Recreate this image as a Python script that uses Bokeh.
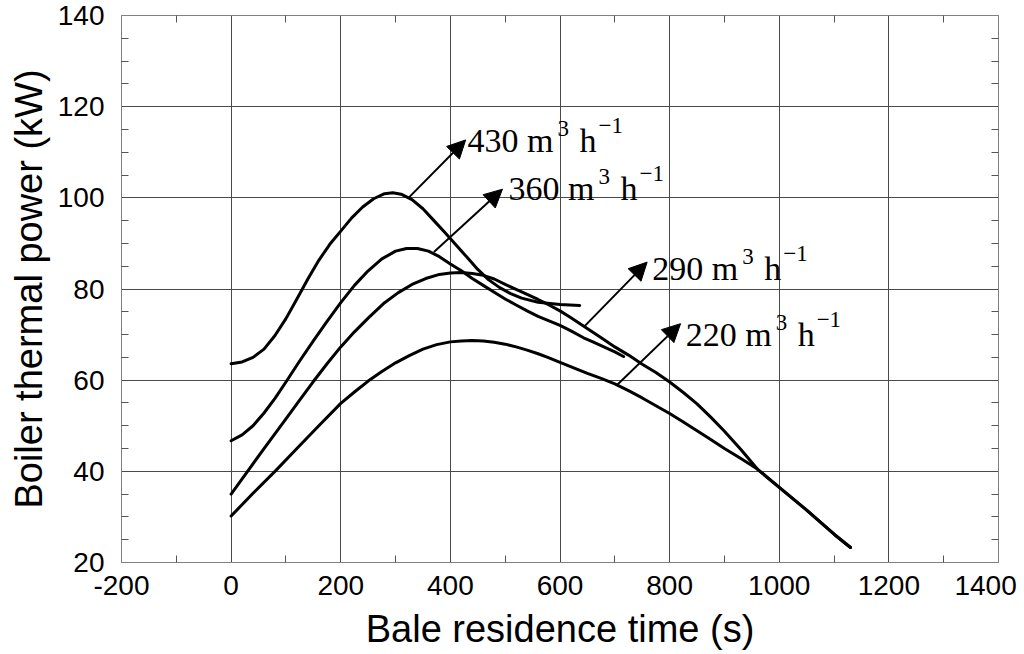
from bokeh.plotting import figure
from bokeh.models import LinearAxis, FixedTicker, Arrow, NormalHead, Range1d
from bokeh.core.properties import value
from bokeh.embed import file_html
from bokeh.resources import INLINE

# ---- data ----
x430 = [0, 20, 40, 60, 80, 100, 120, 140, 160, 180, 200, 220, 240, 260, 280, 295, 310, 330, 350, 370,
        390, 410, 430, 450, 470, 490, 510, 530, 560, 600, 636]
y430 = [63.6, 64.0, 65.0, 66.8, 69.8, 73.5, 77.8, 82.2, 86.3, 89.8, 92.7, 95.6, 98.0, 99.8, 100.9, 101.1,
        100.8, 99.6, 97.6, 95.0, 92.4, 89.7, 87.0, 84.3, 82.0, 80.3, 79.0, 78.0, 77.1, 76.6, 76.4]

x360 = [0, 20, 40, 60, 80, 100, 125, 150, 175, 200, 225, 250, 275, 300, 320, 340, 360, 380, 400, 420,
        440, 460, 480, 500, 520, 540, 560, 580, 600, 620, 643, 660, 680, 700, 716]
y360 = [46.7, 48.0, 50.0, 52.8, 56.0, 59.6, 64.2, 68.6, 72.9, 77.0, 80.8, 84.0, 86.6, 88.3, 88.9, 88.9,
        88.3, 87.1, 85.5, 84.0, 82.3, 80.8, 79.3, 77.8, 76.5, 75.2, 74.0, 73.0, 72.0, 70.8, 69.3, 68.4,
        67.3, 66.2, 65.2]

x290 = [0, 30, 60, 100, 125, 150, 175, 200, 225, 250, 280, 305, 330, 355, 380, 400, 420, 440, 460, 480,
        500, 520, 540, 560, 580, 600, 620, 640, 660, 680, 700, 725, 750, 775, 800, 825, 850, 875, 900,
        930, 960, 1000, 1050, 1100, 1130]
y290 = [35.0, 40.0, 45.0, 51.5, 55.6, 59.7, 63.6, 67.3, 70.6, 73.6, 77.0, 79.2, 81.0, 82.3, 83.2, 83.5,
        83.6, 83.4, 83.0, 82.2, 81.0, 79.9, 78.8, 77.7, 76.5, 75.2, 73.7, 72.1, 70.5, 68.9, 67.3, 65.5,
        63.5, 61.7, 59.6, 57.3, 54.8, 51.9, 48.8, 44.8, 40.5, 36.5, 31.5, 26.2, 23.3]

x220 = [0, 40, 80, 120, 160, 200, 225, 250, 275, 300, 325, 350, 375, 400, 420, 440, 460, 480, 500, 520,
        540, 560, 580, 600, 625, 650, 675, 700, 725, 750, 775, 800, 825, 850, 875, 900, 930, 960, 1000,
        1050, 1100, 1130]
y220 = [30.2, 35.2, 40.0, 45.0, 50.0, 54.9, 57.4, 59.8, 61.9, 63.8, 65.4, 66.8, 67.8, 68.4, 68.6, 68.7,
        68.6, 68.3, 67.9, 67.3, 66.6, 65.8, 64.9, 63.9, 62.7, 61.5, 60.4, 59.2, 57.7, 56.1, 54.4, 52.7,
        50.8, 48.9, 47.0, 45.0, 42.8, 40.5, 36.5, 31.5, 26.2, 23.3]

flow_rates = ["430", "360", "290", "220"]

x_ticks = [-200, 0, 200, 400, 600, 800, 1000, 1200, 1400]
x_minor = [-100, 100, 300, 500, 700, 900, 1100, 1300]
y_ticks = [20, 40, 60, 80, 100, 120, 140]
y_minor = [25, 30, 35, 45, 50, 55, 65, 70, 75, 85, 90, 95, 105, 110, 115, 125, 130, 135]

# ---- annotation layout (label anchors and arrows, in data units) ----
label_anchor_x = [431.3, 506.2, 768.4, 829.2]
label_anchor_y = [112.6, 102.0, 84.5, 70.1]
arrow_start = [(324.5, 100.1), (370.0, 88.1), (643.6, 71.7), (704.5, 59.0)]
arrow_end = [(427.9, 112.7), (495.0, 101.9), (759.0, 85.9), (820.0, 72.4)]

SANS = "Liberation Sans"
SERIF = "Liberation Serif"
GRID = "#4a4a4a"
AXC = "#808080"
NB = "\u00a0"

p = figure(width=1024, height=652,
           x_range=Range1d(-200, 1400), y_range=Range1d(20, 140),
           output_backend="svg", toolbar_location=None,
           min_border_left=121, min_border_right=26,
           min_border_top=15, min_border_bottom=90,
           x_axis_label="Bale residence time (s)",
           y_axis_label="Boiler thermal power (kW)")
p.background_fill_color = "white"
p.border_fill_color = "white"
p.outline_line_color = AXC

xt = FixedTicker(ticks=x_ticks, minor_ticks=x_minor)
yt = FixedTicker(ticks=y_ticks, minor_ticks=y_minor)

xa = p.xaxis[0]
ya = p.yaxis[0]
xa.ticker = xt
ya.ticker = yt
for ax in (xa, ya):
    ax.major_tick_in = 0
    ax.major_tick_out = 0
    ax.minor_tick_in = 7
    ax.minor_tick_out = 0
    ax.minor_tick_line_color = "#555555"
    ax.axis_line_color = AXC
    ax.major_label_text_font = SANS
    ax.major_label_text_font_size = "28px"
    ax.major_label_text_color = "black"
    ax.axis_label_text_font = SANS
    ax.axis_label_text_font_size = "38px"
    ax.axis_label_text_font_style = "normal"
    ax.axis_label_text_color = "black"
xa.major_label_standoff = 7
xa.axis_label_standoff = 4
ya.major_label_standoff = 17
ya.axis_label_standoff = 5
xa.major_label_overrides = {-200: "-200", 1400: "1400" + NB}

# mirrored axes carrying only the inner minor ticks (no major ticks, so no labels)
for loc, minors in (("right", y_minor), ("above", x_minor)):
    ax = LinearAxis(ticker=FixedTicker(ticks=[], minor_ticks=minors),
                    major_tick_in=0, major_tick_out=0,
                    minor_tick_in=7, minor_tick_out=0,
                    minor_tick_line_color="#555555", axis_line_color=AXC,
                    major_label_standoff=0, axis_label_standoff=0)
    p.add_layout(ax, loc)

p.xgrid.ticker = xt
p.ygrid.ticker = yt
for g in (p.xgrid, p.ygrid):
    g.grid_line_color = GRID
    g.grid_line_width = 1

for xs, ys in ((x430, y430), (x360, y360), (x290, y290), (x220, y220)):
    p.line(xs, ys, line_color="black", line_width=3, line_join="round", line_cap="round")

for (x0, y0), (x1, y1) in zip(arrow_start, arrow_end):
    p.add_layout(Arrow(x_start=x0, y_start=y0, x_end=x1, y_end=y1,
                       line_color="black", line_width=2,
                       end=NormalHead(size=18, fill_color="black", line_color="black")))

for name, ax_, ay_ in zip(flow_rates, label_anchor_x, label_anchor_y):
    p.text(x=[ax_], y=[ay_], text=[name + " m"], text_font=value(SERIF),
           text_font_size="34px", text_align="left", text_baseline="alphabetic",
           text_color="black")
    p.text(x=[ax_], y=[ay_], text=["3"], text_font=value(SERIF),
           text_font_size="23px", text_align="left", text_baseline="alphabetic",
           x_offset=90, y_offset=-12, text_color="black")
    p.text(x=[ax_], y=[ay_], text=["h"], text_font=value(SERIF),
           text_font_size="34px", text_align="left", text_baseline="alphabetic",
           x_offset=112, text_color="black")
    p.text(x=[ax_], y=[ay_], text=["\u22121"], text_font=value(SERIF),
           text_font_size="23px", text_align="left", text_baseline="alphabetic",
           x_offset=131, y_offset=-15, text_color="black")

open("out.html", "w").write(file_html(p, INLINE))
